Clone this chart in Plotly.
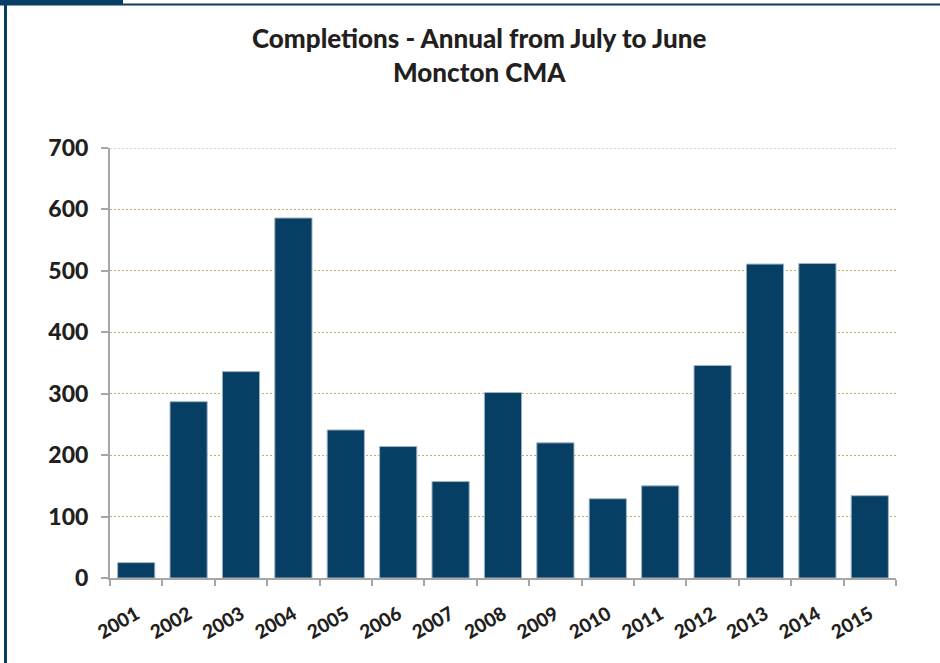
import plotly.graph_objects as go

years = ["2001", "2002", "2003", "2004", "2005", "2006", "2007", "2008",
         "2009", "2010", "2011", "2012", "2013", "2014", "2015"]
completions = [25, 287, 336, 586, 241, 214, 157, 302, 220, 129, 150, 346, 511, 512, 134]
y_ticks = [0, 100, 200, 300, 400, 500, 600, 700]
title_lines = ["Completions - Annual from July to June", "Moncton CMA"]

W, H = 940, 663
L, R, T, B = 110, 44, 148, 85
PW, PH = W - L - R, H - T - B

def px(x):
    return (x - L) / PW

def py(y):
    return 1 - (y - T) / PH

BLUE = "#063f63"
TXT = "#231f20"
GRID = "#c2b06a"

fig = go.Figure()
fig.add_trace(go.Bar(
    x=years, y=completions,
    marker=dict(color=BLUE, line=dict(color="#9fb3c3", width=1)),
    hoverinfo="x+y",
))

shapes = [
    dict(type="rect", xref="paper", yref="paper", x0=px(0), x1=px(W), y0=py(5.5), y1=py(3.5),
         fillcolor=BLUE, line=dict(width=0), layer="above"),
    dict(type="rect", xref="paper", yref="paper", x0=px(0), x1=px(123), y0=py(5), y1=py(0),
         fillcolor=BLUE, line=dict(width=0), layer="above"),
    dict(type="rect", xref="paper", yref="paper", x0=px(4), x1=px(7), y0=py(H), y1=py(3.5),
         fillcolor=BLUE, line=dict(width=0), layer="above"),
    dict(type="line", xref="paper", yref="y", x0=0, x1=1, y0=y_ticks[-1], y1=y_ticks[-1],
         line=dict(color=GRID, width=1.2, dash="2px,2px"), layer="below"),
]

annotations = [
    dict(text=title_lines[0], xref="paper", yref="paper",
         x=px(479), y=py(38), xanchor="center", yanchor="middle", showarrow=False,
         font=dict(size=26, family="Lato", color=TXT, weight=900)),
    dict(text=title_lines[1], xref="paper", yref="paper",
         x=px(479), y=py(72), xanchor="center", yanchor="middle", showarrow=False,
         font=dict(size=26, family="Lato", color=TXT, weight=900)),
]

fig.update_layout(
    width=W, height=H,
    margin=dict(l=L, r=R, t=T, b=B),
    paper_bgcolor="white", plot_bgcolor="white",
    font=dict(family="Lato", color=TXT),
    showlegend=False,
    bargap=0.29,
    shapes=shapes,
    annotations=annotations,
    xaxis=dict(
        type="category",
        tickangle=-30,
        tickfont=dict(size=19, family="Lato", color=TXT, weight=900),
        ticks="outside", ticklen=6, tickcolor="#a6a6a6", tickwidth=2,
        tickson="boundaries",
        showline=True, linecolor="#a6a6a6", linewidth=2,
        showgrid=False,
        ticklabelstandoff=16,
    ),
    yaxis=dict(
        range=[0, 700],
        tickvals=y_ticks,
        tickfont=dict(size=23, family="Lato", color=TXT, weight=900),
        ticks="outside", ticklen=7, tickcolor="#a6a6a6", tickwidth=2,
        showline=True, linecolor="#a6a6a6", linewidth=2,
        showgrid=True, gridcolor=GRID, gridwidth=1.2, griddash="2px,2px",
        zeroline=False,
        ticklabelstandoff=8,
    ),
)

fig.write_html("out.html")
